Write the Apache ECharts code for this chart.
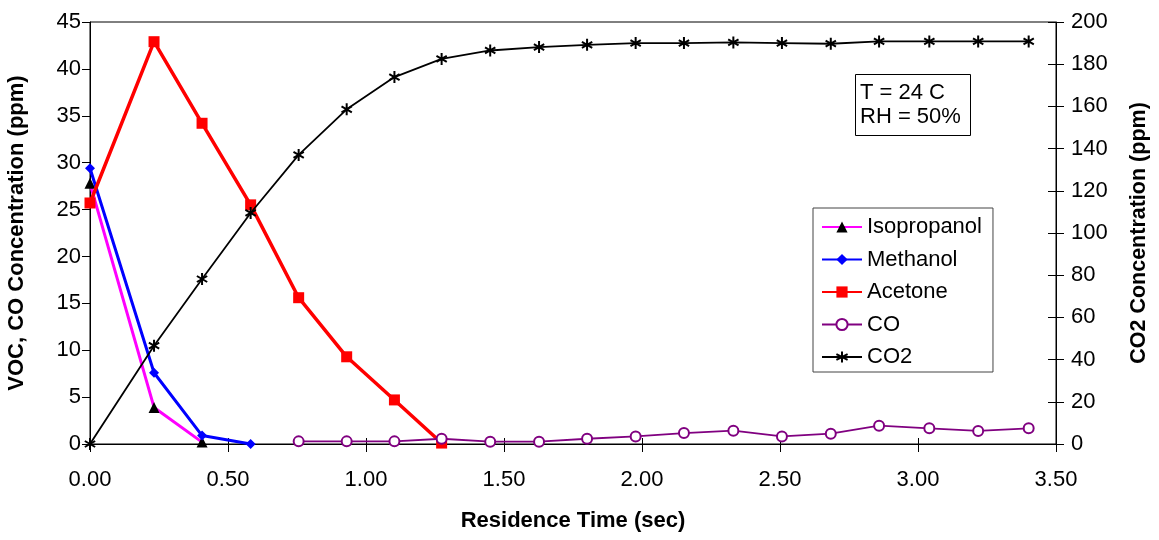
<!DOCTYPE html>
<html>
<head>
<meta charset="utf-8">
<script src="https://cdn.jsdelivr.net/npm/echarts@6/dist/echarts.min.js"></script>
<style>
html,body{margin:0;padding:0;background:#fff;}
#chart{width:1159px;height:540px;}
</style>
</head>
<body>
<div id="chart"></div>
<script>
// Residence time (sec) for each sampling point
const timeSec = [0, 0.232, 0.406, 0.582, 0.756, 0.930, 1.103, 1.274, 1.450, 1.627, 1.801, 1.977, 2.152, 2.331, 2.507, 2.684, 2.859, 3.041, 3.218, 3.401];
// VOC concentrations (ppm), starting at timeSec[0]
const isopropanol = [27.8, 3.9, 0.2];
const methanol = [29.4, 7.6, 0.9, 0.0];
const acetone = [25.7, 42.9, 34.2, 25.5, 15.6, 9.3, 4.7, 0.1];
// CO (ppm), starting at timeSec[4]
const coStart = 4;
const co = [0.28, 0.28, 0.28, 0.56, 0.25, 0.25, 0.56, 0.81, 1.17, 1.42, 0.81, 1.1, 1.95, 1.67, 1.39, 1.67];
// CO2 (ppm, right axis)
const co2 = [0, 46.6, 78.2, 109.5, 137, 158.6, 173.9, 182.5, 186.5, 188.1, 189.2, 190, 190, 190.3, 190, 189.7, 190.8, 190.8, 190.8, 190.8];
// Axis definitions
const xTicks = {min: 0, max: 3.5, interval: 0.5};
const yLeftTicks = {min: 0, max: 45, interval: 5};
const yRightTicks = {min: 0, max: 200, interval: 20};
const annotationText = 'T = 24 C\nRH = 50%';

const pair = (arr, offset) => arr.map((v, i) => [timeSec[i + (offset || 0)], v]);
const FONT = 'Liberation Sans, Arial, Helvetica, sans-serif';
const starPath = 'path://M5,0L5,10M0.7,2.5L9.3,7.5M9.3,2.5L0.7,7.5';
const gridBox = {left: 90, right: 103, top: 22, bottom: 96, containLabel: false, outerBoundsMode: 'none'};

const chart = echarts.init(document.getElementById('chart'), null, {renderer: 'canvas'});
chart.setOption({
  animation: false,
  backgroundColor: '#fff',
  textStyle: {fontFamily: FONT, color: '#000'},
  title: {
    text: annotationText,
    left: 855, top: 74,
    padding: [7, 10, 7, 5],
    borderColor: '#000', borderWidth: 1,
    textStyle: {fontSize: 22, fontWeight: 'normal', lineHeight: 24, color: '#000', fontFamily: FONT}
  },
  legend: {
    orient: 'vertical',
    left: 813, top: 208,
    padding: [8, 11, 4, 8],
    itemWidth: 40, itemHeight: 14,
    itemGap: 10.5,
    borderColor: '#444', borderWidth: 1,
    backgroundColor: '#fff',
    textStyle: {fontSize: 22, lineHeight: 22, color: '#000', fontFamily: FONT},
    data: ['Isopropanol', 'Methanol', 'Acetone', 'CO', 'CO2']
  },
  grid: [
    Object.assign({show: true, borderColor: '#000', borderWidth: 1, backgroundColor: 'transparent'}, gridBox),
    Object.assign({show: false}, gridBox)
  ],
  xAxis: [{
    gridIndex: 0,
    type: 'value', min: xTicks.min, max: xTicks.max, interval: xTicks.interval,
    position: 'bottom',
    name: 'Residence Time (sec)', nameLocation: 'middle', nameGap: 66,
    nameTextStyle: {fontSize: 22, fontWeight: 'bold', fontFamily: FONT, color: '#000'},
    axisLine: {onZero: false, lineStyle: {color: '#000', width: 1}},
    axisTick: {show: true, length: 8, lineStyle: {color: '#000'}},
    axisLabel: {fontSize: 22, color: '#000', margin: 25, formatter: v => v.toFixed(2), fontFamily: FONT},
    splitLine: {show: false}
  }, {
    gridIndex: 1,
    type: 'value', min: xTicks.min, max: xTicks.max, interval: xTicks.interval,
    position: 'bottom',
    axisLine: {show: false, onZero: false},
    axisTick: {show: true, inside: true, length: 6, lineStyle: {color: '#000'}},
    axisLabel: {show: false}, splitLine: {show: false}
  }],
  yAxis: [{
    gridIndex: 0,
    type: 'value', min: yLeftTicks.min, max: yLeftTicks.max, interval: yLeftTicks.interval,
    position: 'left',
    name: 'VOC, CO Concentration (ppm)', nameLocation: 'middle', nameGap: 62, nameRotate: 90,
    nameTextStyle: {fontSize: 22, fontWeight: 'bold', fontFamily: FONT, color: '#000'},
    axisLine: {show: true, onZero: false, lineStyle: {color: '#000', width: 1}},
    axisTick: {show: true, length: 8, lineStyle: {color: '#000'}},
    axisLabel: {fontSize: 22, color: '#000', margin: 9, fontFamily: FONT},
    splitLine: {show: false}
  }, {
    gridIndex: 0,
    type: 'value', min: yRightTicks.min, max: yRightTicks.max, interval: yRightTicks.interval,
    position: 'right',
    name: 'CO2 Concentration (ppm)', nameLocation: 'middle', nameGap: 72, nameRotate: 90,
    nameTextStyle: {fontSize: 21.5, fontWeight: 'bold', fontFamily: FONT, color: '#000'},
    axisLine: {show: true, onZero: false, lineStyle: {color: '#000', width: 1}},
    axisTick: {show: true, length: 8, lineStyle: {color: '#000'}},
    axisLabel: {fontSize: 22, color: '#000', margin: 15, fontFamily: FONT},
    splitLine: {show: false}
  }, {
    gridIndex: 1,
    type: 'value', min: yRightTicks.min, max: yRightTicks.max, interval: yRightTicks.interval,
    position: 'right',
    axisLine: {show: false, onZero: false},
    axisTick: {show: true, inside: true, length: 8, lineStyle: {color: '#000'}},
    axisLabel: {show: false}, splitLine: {show: false}
  }],
  series: [{
    name: 'Isopropanol', type: 'line', xAxisIndex: 0, yAxisIndex: 0,
    data: pair(isopropanol),
    lineStyle: {color: '#FF00FF', width: 3},
    symbol: 'triangle', symbolSize: 11,
    itemStyle: {color: '#000'},
    z: 2
  }, {
    name: 'Methanol', type: 'line', xAxisIndex: 0, yAxisIndex: 0,
    data: pair(methanol),
    lineStyle: {color: '#0000FF', width: 3},
    symbol: 'diamond', symbolSize: 10,
    itemStyle: {color: '#0000FF'},
    z: 3
  }, {
    name: 'Acetone', type: 'line', xAxisIndex: 0, yAxisIndex: 0,
    data: pair(acetone),
    lineStyle: {color: '#FF0000', width: 3.5},
    symbol: 'rect', symbolSize: 11,
    itemStyle: {color: '#FF0000'},
    z: 4
  }, {
    name: 'CO', type: 'line', xAxisIndex: 0, yAxisIndex: 0,
    data: pair(co, coStart),
    lineStyle: {color: '#800080', width: 1.8},
    symbol: 'emptyCircle', symbolSize: 10,
    itemStyle: {color: '#800080', borderColor: '#800080', borderWidth: 1.6},
    z: 5
  }, {
    name: 'CO2', type: 'line', xAxisIndex: 0, yAxisIndex: 1,
    data: pair(co2),
    lineStyle: {color: '#000', width: 1.8},
    symbol: starPath, symbolSize: 12, symbolKeepAspect: true,
    itemStyle: {color: 'none', borderColor: '#000', borderWidth: 2},
    z: 6
  }]
});
</script>
</body>
</html>
